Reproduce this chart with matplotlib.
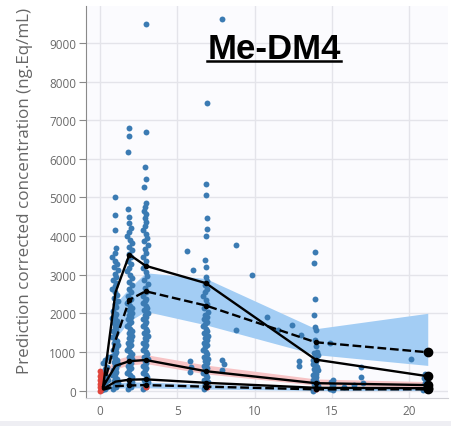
import matplotlib
matplotlib.use("Agg")
import matplotlib.pyplot as plt
from matplotlib.lines import Line2D
from matplotlib.patches import Rectangle

# observed, prediction-corrected concentrations (time in days, conc in ng.Eq/mL)
obs_t0 = [0.15, 0.3, 0.45, 0.2, 0.35, 0.5, 0.25, 0.4, 0.15, 0.3,
          0.45, 0.2, 0.35, 0.5, 0.25, 0.4, 0.3, 0.35]
obs_c0 = [20, 60, 100, 150, 200, 260, 320, 380, 440, 520,
          600, 700, 800, 880, 90, 240, 560, 30]

obs_t1 = [0.85, 1.05, 0.95, 1.15, 0.9, 1.1, 1.0, 0.8, 0.95, 1.05,
          0.85, 1.05, 0.95, 1.15, 0.9, 1.1, 1.0, 0.8, 0.95, 1.05,
          0.85, 1.05, 0.95, 1.15, 0.9, 1.1, 1.0, 0.8, 0.95, 1.05,
          0.85, 1.05, 0.95, 1.15, 0.9, 1.1, 1.0, 0.8, 0.95, 1.05,
          0.85, 1.05, 0.95, 1.15, 0.9, 1.1, 1.0, 0.8, 0.95, 1.05,
          0.85, 1.05, 0.95, 1.15, 0.9, 1.1, 1.0, 0.8, 0.95, 1.05,
          0.97, 1.0, 0.97]
obs_c1 = [40, 90, 140, 190, 240, 290, 340, 390, 440, 490,
          540, 590, 640, 690, 740, 790, 840, 890, 940, 990,
          1040, 1090, 1140, 1190, 1240, 1290, 1340, 1390, 1440, 1490,
          1540, 1590, 1640, 1690, 1740, 1790, 1840, 1890, 1940, 1990,
          2070, 2150, 2230, 2310, 2390, 2470, 2550, 2630, 2710, 2790,
          2870, 2950, 3030, 3110, 3190, 3270, 3350, 3450, 3560, 3700,
          4150, 4540, 5000]

obs_t2 = [1.8, 2.0, 1.9, 2.1, 1.85, 2.05, 1.95, 1.75, 1.9, 2.0,
          1.8, 2.0, 1.9, 2.1, 1.85, 2.05, 1.95, 1.75, 1.9, 2.0,
          1.8, 2.0, 1.9, 2.1, 1.85, 2.05, 1.95, 1.75, 1.9, 2.0,
          1.8, 2.0, 1.9, 2.1, 1.85, 2.05, 1.95, 1.75, 1.9, 2.0,
          1.8, 2.0, 1.9, 2.1, 1.85, 2.05, 1.95, 1.75, 1.9, 2.0,
          1.8, 2.0, 1.9, 2.1, 1.85, 2.05, 1.95, 1.75, 1.9, 2.0,
          1.85, 1.9, 1.8, 1.8, 1.85, 1.85]
obs_c2 = [40, 100, 160, 220, 280, 340, 400, 460, 520, 580,
          640, 700, 760, 820, 880, 940, 1000, 1060, 1120, 1180,
          1240, 1300, 1360, 1420, 1480, 1540, 1600, 1660, 1720, 1780,
          1840, 1900, 1960, 2020, 2080, 2140, 2200, 2260, 2320, 2380,
          2460, 2550, 2640, 2730, 2820, 2910, 3000, 3090, 3180, 3270,
          3360, 3450, 3540, 3630, 3720, 3810, 3900, 4000, 4100, 4200,
          4350, 4500, 4710, 6170, 6600, 6810]

obs_t3 = [2.8, 3.0, 2.9, 3.1, 2.85, 3.05, 2.95, 2.75, 2.9, 3.0,
          2.8, 3.0, 2.9, 3.1, 2.85, 3.05, 2.95, 2.75, 2.9, 3.0,
          2.8, 3.0, 2.9, 3.1, 2.85, 3.05, 2.95, 2.75, 2.9, 3.0,
          2.8, 3.0, 2.9, 3.1, 2.85, 3.05, 2.95, 2.75, 2.9, 3.0,
          2.8, 3.0, 2.9, 3.1, 2.85, 3.05, 2.95, 2.75, 2.9, 3.0,
          2.8, 3.0, 2.9, 3.1, 2.85, 3.05, 2.95, 2.75, 2.9, 3.0,
          2.9, 2.95, 2.85, 2.9, 2.95, 2.85, 2.95, 2.9, 2.95, 2.95]
obs_c3 = [40, 100, 160, 220, 280, 340, 400, 460, 520, 580,
          640, 700, 760, 820, 880, 940, 1000, 1060, 1120, 1180,
          1240, 1300, 1360, 1420, 1480, 1540, 1600, 1660, 1720, 1780,
          1840, 1900, 1960, 2020, 2080, 2140, 2200, 2260, 2320, 2380,
          2460, 2560, 2660, 2760, 2860, 2960, 3060, 3160, 3260, 3360,
          3460, 3560, 3660, 3760, 3860, 3960, 4060, 4160, 4260, 4360,
          4460, 4560, 4660, 4760, 4860, 5260, 5490, 5800, 6690, 9480]

obs_t7 = [6.7, 6.9, 6.8, 7.0, 6.75, 6.95, 6.85, 6.65, 6.8, 6.9,
          6.7, 6.9, 6.8, 7.0, 6.75, 6.95, 6.85, 6.65, 6.8, 6.9,
          6.7, 6.9, 6.8, 7.0, 6.75, 6.95, 6.85, 6.65, 6.8, 6.9,
          6.7, 6.9, 6.8, 7.0, 6.75, 6.95, 6.85, 6.65, 6.8, 6.9,
          6.8, 6.9, 6.85, 6.85, 6.8, 6.85, 6.9, 6.9, 6.85, 6.85,
          6.9]
obs_c7 = [40, 100, 160, 220, 280, 340, 400, 460, 520, 580,
          640, 700, 760, 820, 880, 940, 1000, 1060, 1120, 1180,
          1240, 1300, 1360, 1420, 1480, 1540, 1600, 1660, 1720, 1780,
          1840, 1900, 1960, 2040, 2140, 2240, 2340, 2440, 2540, 2640,
          2740, 2840, 2940, 3200, 3370, 4000, 4170, 4460, 5060, 5340,
          7450]

obs_t14 = [13.8, 14.0, 13.9, 14.1, 13.85, 14.05, 13.95, 13.75, 13.9, 14.0,
           13.8, 14.0, 13.9, 14.1, 13.85, 14.05, 13.95, 13.75, 13.9, 14.0,
           13.8, 14.0, 13.9, 14.1, 13.85, 14.05, 13.95, 13.9, 13.95, 13.9,
           13.85, 13.9, 13.85, 13.9]
obs_c14 = [0, 40, 80, 120, 160, 200, 240, 280, 320, 360,
           400, 440, 480, 520, 560, 600, 640, 680, 720, 760,
           800, 840, 880, 920, 960, 1000, 1150, 1300, 1560, 1650,
           1950, 2360, 3310, 3580]

obs_t15 = [14.9, 15.0, 15.1, 15.0, 14.95, 15.05, 14.9, 15.1]
obs_c15 = [30, 80, 130, 180, 230, 280, 1240, 20]

obs_t21 = [20.9, 21.0, 21.1, 21.2, 21.0, 21.1, 20.95, 21.05, 21.15]
obs_c21 = [20, 60, 100, 150, 200, 260, 320, 420, 40]

# isolated observations between the nominal visits
obs_t_other = [5.6, 6.0, 8.8, 9.8, 7.9, 5.8, 5.9, 5.85, 7.9, 7.9, 8.0, 8.8, 12.9, 12.9,
               13.0, 11.5, 16.9, 16.9, 20.1, 17.0, 15.8, 16.4, 10.8, 12.4]
obs_c_other = [3610, 3120, 3770, 2990, 9610, 760, 600, 480, 800, 540, 680, 1580, 760, 630,
               1450, 1580, 600, 340, 820, 200, 100, 150, 1900, 1700]

# observations flagged in red
red_t = [0.0, 0.05, 0.0, 0.05, 0.0, 0.05, 0.0, 0.05, 0.0, 0.05, 0.0, 2.95, 3.0, 6.9, 14.0]
red_c = [0, 40, 80, 120, 170, 220, 270, 320, 380, 440, 500, 90, 120, 80, 40]

# percentile lines and prediction intervals
pct_t = [0.2, 1.0, 1.9, 2.95, 6.85, 13.95, 21.2]
obs_p95 = [100, 2540, 3520, 3230, 2780, 800, 370]
sim_p95 = [60, 1300, 2350, 2570, 2200, 1250, 990]
obs_p50 = [100, 640, 760, 790, 500, 190, 140]
obs_p05 = [40, 230, 280, 290, 200, 70, 60]
sim_p05 = [20, 110, 130, 140, 100, 30, 30]

p95_t = [1.0, 1.9, 2.95, 6.85, 13.95, 21.2]
p95_lo = [1350, 1800, 2050, 1700, 930, 650]
p95_hi = [2250, 2650, 3050, 2900, 1600, 2000]
p50_lo = [250, 560, 660, 700, 430, 140, 90]
p50_hi = [480, 800, 900, 930, 660, 300, 230]
p05_lo = [0, 60, 70, 70, 40, 0, 0]
p05_hi = [60, 200, 220, 220, 160, 80, 70]

dot_blue = "#3b7bb3"

fig = plt.figure(figsize=(4.52, 4.27), dpi=100)
fig.patch.set_facecolor("white")
fig.add_artist(Rectangle((0, 0), 1, 5 / 427, transform=fig.transFigure,
                         facecolor="#eeeef3", edgecolor="none"))
ax = fig.add_axes([86 / 452, 1 - 399 / 427, 362 / 452, 392 / 427])
ax.set_facecolor("#fbfbfe")

ax.fill_between(p95_t, p95_lo, p95_hi, color="#a3cdf4", lw=0, zorder=1)
ax.fill_between(pct_t, p50_lo, p50_hi, color="#f7c4c6", lw=0, zorder=1)
ax.fill_between(pct_t, p05_lo, p05_hi, color="#a3cdf4", lw=0, zorder=1)

for tt, cc in [(obs_t0, obs_c0), (obs_t1, obs_c1), (obs_t2, obs_c2), (obs_t3, obs_c3),
               (obs_t7, obs_c7), (obs_t14, obs_c14), (obs_t15, obs_c15),
               (obs_t21, obs_c21), (obs_t_other, obs_c_other)]:
    ax.scatter(tt, cc, s=18, color=dot_blue, lw=0, zorder=2)
ax.scatter(red_t, red_c, s=18, color="#e0443c", lw=0, zorder=2)

for vals, ls in [(obs_p95, "-"), (sim_p95, "--"), (obs_p50, "-"),
                 (obs_p05, "-"), (sim_p05, "--")]:
    ax.plot(pct_t, vals, color="black", lw=1.7, ls=ls, zorder=3)
    ax.plot(pct_t[2:], vals[2:], "o", color="black", ms=3, zorder=3)
    ax.plot(pct_t[-1], vals[-1], "o", color="black", ms=6, zorder=3)

ax.set_xlim(-0.906, 22.51)
ax.set_ylim(-194, 9958)
ax.set_xticks([0, 5, 10, 15, 20])
ax.set_yticks(range(0, 10000, 1000))
ax.grid(True, color="#e4e4ea", lw=1)
ax.set_axisbelow(True)
for side in ["top", "right"]:
    ax.spines[side].set_visible(False)
ax.spines["left"].set_color("#8a8a8a")
ax.spines["bottom"].set_color("#d0d0d6")
ax.tick_params(axis="y", length=5, color="#8a8a8a", labelsize=8.5, labelcolor="#6a6a6a", pad=2)
ax.tick_params(axis="x", length=0, labelsize=8.5, labelcolor="#6a6a6a", pad=4)
for lab in ax.get_xticklabels() + ax.get_yticklabels():
    lab.set_family("Open Sans")

ylab = fig.text(25 / 452, 1 - 191 / 427, "Prediction corrected concentration (ng.Eq/mL)",
                rotation=90, ha="center", va="center", fontsize=10, color="#666666",
                family="Open Sans")

title = fig.text(274 / 452, 1 - 59 / 427, "Me-DM4", fontsize=25, fontweight="bold",
                 family="Liberation Sans", ha="center", va="baseline", color="black")
fig.canvas.draw()
renderer = fig.canvas.get_renderer()
# stretch the axis title over the span from the top of the axis down to the zero tick
ylab.set_fontsize(10 * 366 / ylab.get_window_extent(renderer).height)

bb = title.get_window_extent(renderer).transformed(fig.transFigure.inverted())
y_line = 1 - 62 / 427
fig.add_artist(Line2D([bb.x0, bb.x1], [y_line, y_line], color="black", lw=1.8,
                      transform=fig.transFigure))

fig.savefig("out.png", dpi=100)
